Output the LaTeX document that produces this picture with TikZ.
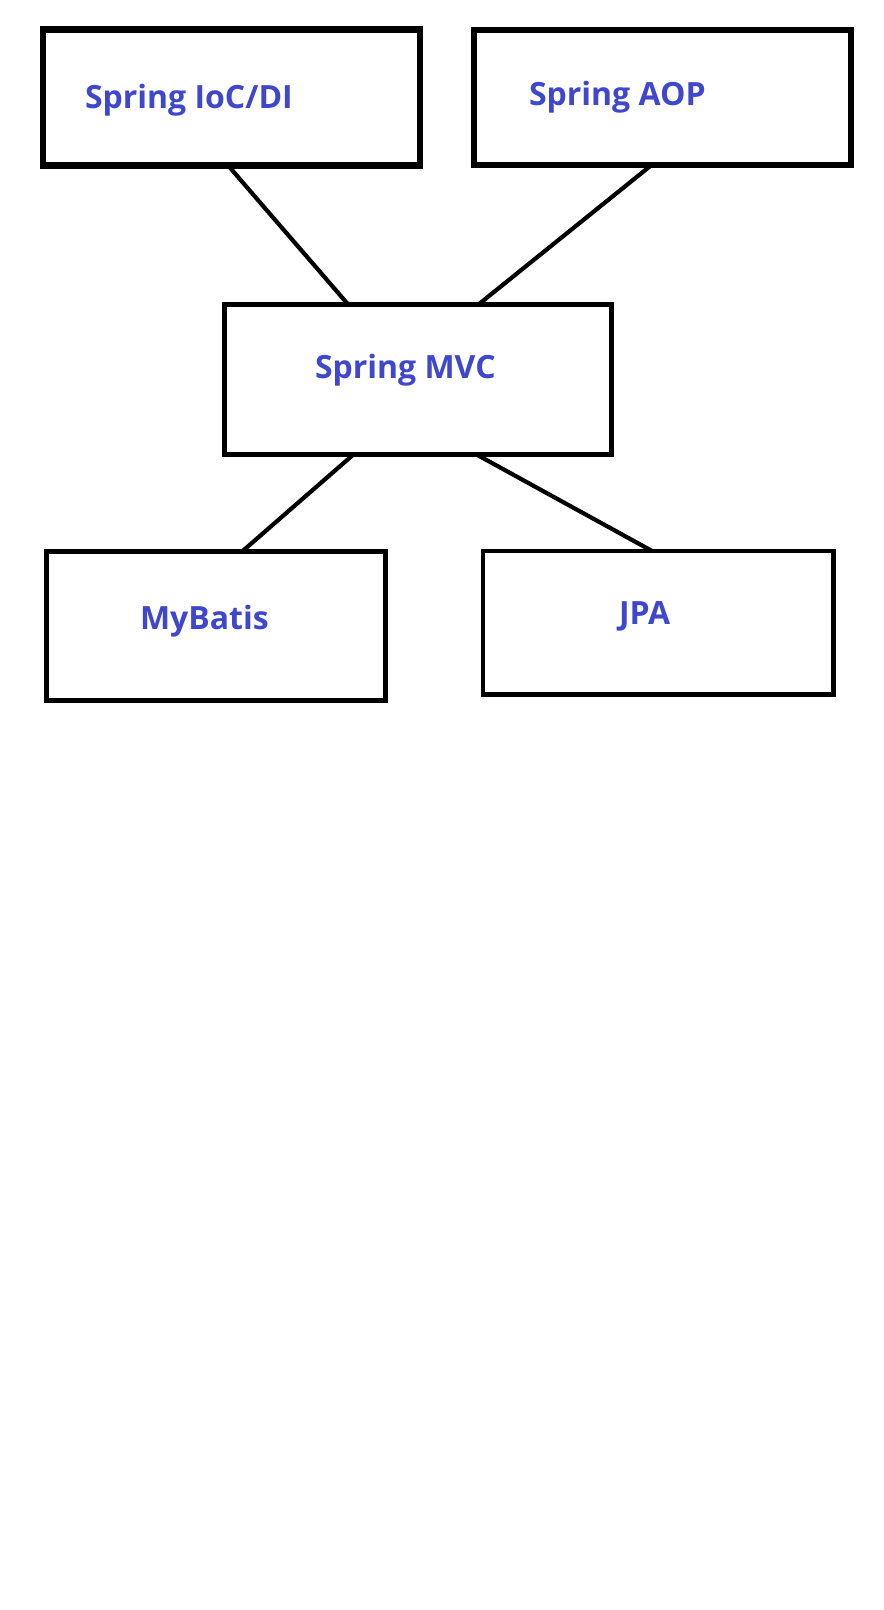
\documentclass[tikz,border=0pt]{standalone}
\usepackage{fontspec}
\setmainfont{Open Sans}
\usetikzlibrary{calc}
\definecolor{paintblue}{RGB}{63,72,204}
\tikzset{
  box/.style={draw=black, rectangle, inner sep=0pt, outer sep=0pt, fill=none},
  lbl/.style={anchor=base west, inner sep=0pt, outer sep=0pt, text=paintblue, font=\bfseries\fontsize{32}{38}\selectfont},
  conn/.style={draw=black, line width=4.2pt}
}
\begin{document}
\begin{tikzpicture}[x=1pt, y=-1pt]
\useasboundingbox[fill=white] (0,0) rectangle (884,1610);
% boxes
\node[box, line width=6.5pt, minimum width=377pt, minimum height=136pt] (ioc) at (231.5,97.5) {};
\node[box, line width=5.5pt, minimum width=377pt, minimum height=135pt] (aop) at (662.5,97.5) {};
\node[box, line width=5pt, minimum width=386.5pt, minimum height=150.2pt] (mvc) at (417.75,379.6) {};
\node[box, line width=5pt, minimum width=338.3pt, minimum height=149.1pt] (mybatis) at (215.85,626.25) {};
\node[box, line width=4.5pt, minimum width=350.5pt, minimum height=143.9pt] (jpa) at (658.05,622.75) {};
% labels
\node[lbl] (tioc) at (85,108) {Spring IoC/DI};
\node[lbl] (taop) at (529,105) {Spring AOP};
\node[lbl] (tmvc) at (315,378) {Spring MVC};
\node[lbl] (tmyb) at (140,629) {MyBatis};
\node[lbl] (tjpa) at (619,624) {JPA};
% connectors
\draw[conn] ($(ioc.south west)!0.491!(ioc.south east)$) -- ($(mvc.north west)!0.32!(mvc.north east)$);
\draw[conn] ($(aop.south west)!0.471!(aop.south east)$) -- ($(mvc.north west)!0.657!(mvc.north east)$);
\draw[conn] ($(mvc.south west)!0.333!(mvc.south east)$) -- ($(mybatis.north west)!0.577!(mybatis.north east)$);
\draw[conn] ($(mvc.south west)!0.653!(mvc.south east)$) -- ($(jpa.north west)!0.482!(jpa.north east)$);
\end{tikzpicture}
\end{document}
